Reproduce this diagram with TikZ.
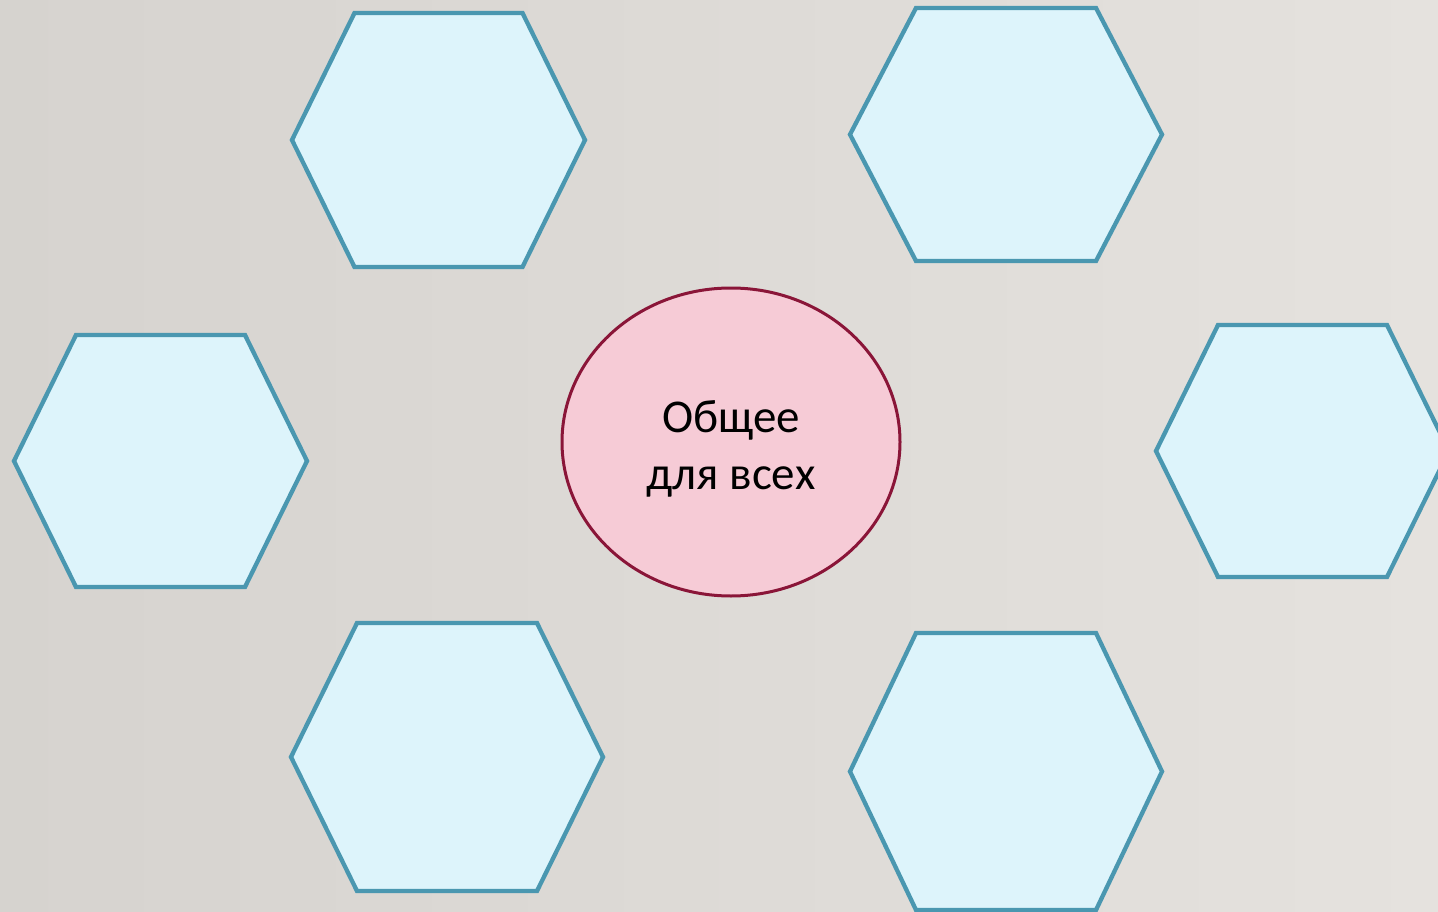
\documentclass[tikz,border=0pt]{standalone}
\usepackage{fontspec}
\setmainfont{Carlito}
\usetikzlibrary{shapes.geometric,calc}
\definecolor{bgA}{HTML}{D6D3CF}
\definecolor{bgB}{HTML}{E5E2DE}
\definecolor{hexfill}{HTML}{DDF4FB}
\definecolor{hexline}{HTML}{4A97B0}
\definecolor{ovfill}{HTML}{F6CBD6}
\definecolor{ovline}{HTML}{8A1538}
\tikzset{
  hexbox/.style={draw=hexline, fill=hexfill, line width=4.3pt, line join=miter},
  centeroval/.style={ellipse, draw=ovline, fill=ovfill, line width=3pt,
     minimum width=338pt, minimum height=308pt, inner sep=0pt, align=center,
     font=\fontsize{47}{57}\selectfont}
}
% #1 name, #2 cx, #3 cy, #4 half width, #5 half height, #6 inset
\newcommand{\myhex}[6]{%
  \coordinate (#1) at (#2,#3);
  \draw[hexbox] ($(#1)+(-#4,0)$) -- ($(#1)+(-#4+#6,-#5)$) -- ($(#1)+(#4-#6,-#5)$)
     -- ($(#1)+(#4,0)$) -- ($(#1)+(#4-#6,#5)$) -- ($(#1)+(-#4+#6,#5)$) -- cycle;}
\begin{document}
\begin{tikzpicture}[x=1pt,y=-1pt]
\useasboundingbox (0,0) rectangle (1438,912);
\clip (0,0) rectangle (1438,912);
\shade[left color=bgA, right color=bgB, shading angle=90] (0,0) rectangle (1438,912);
\myhex{h1}{438.5}{140}{146.5}{127}{62.5}
\myhex{h2}{1006}{134.5}{156}{126.5}{66}
\myhex{h3}{160.5}{461}{146.5}{126}{62}
\myhex{h4}{1302.5}{451}{146.5}{126}{62}
\myhex{h5}{447}{757}{156}{134}{66}
\myhex{h6}{1006}{771.5}{156}{138.5}{66}
\node[centeroval] (c) at (731,442) {};
\node[font=\fontsize{47}{57}\selectfont, align=center, inner sep=0pt] (t) at (731,449) {Общее\\для всех};
\end{tikzpicture}
\end{document}
